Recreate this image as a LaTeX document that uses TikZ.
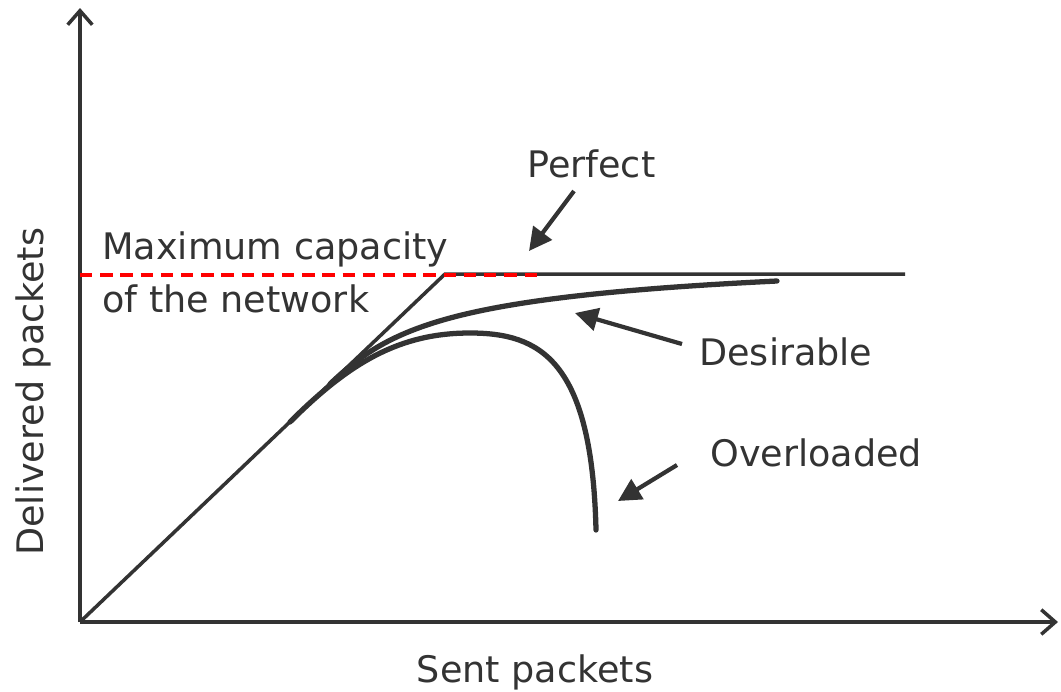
\documentclass[tikz,border=0pt]{standalone}
\usepackage{fontspec}
\setmainfont{DejaVu Sans}
\usetikzlibrary{arrows.meta}
\definecolor{ink}{HTML}{333333}
\tikzset{
  lbl/.style={font=\fontsize{20.8}{24}\selectfont, text=ink, inner sep=0pt},
  curve/.style={ink, line width=3pt, line cap=round},
  pointer/.style={ink, line width=2.4pt, -{Triangle[length=13pt,width=13pt]}},
  axis/.style={ink, line width=2pt, -{Straight Barb[length=8pt,width=14pt,line width=2pt]}}
}
\begin{document}
\begin{tikzpicture}[x=0.02cm,y=-0.02cm]
    \useasboundingbox (0,0) rectangle (1061,691);
    \coordinate (o) at (80,622);
    \coordinate (ytop) at (80,8);
    \coordinate (xend) at (1058,622);
    \coordinate (knee) at (445,274);
    \coordinate (pend) at (905,274);
    % axes
    \draw [axis] (o) -- (ytop);
    \draw [axis] (o) -- (xend);
    % perfect
    \draw [ink, line width=2pt] (o) -- (knee) -- (pend);
    % capacity level
    \draw [red, line width=1.8pt, dash pattern=on 7pt off 4.5pt] (80,275) -- (540,275);
    % desirable
    \draw [curve] (330,384) .. controls (390,327) and (450,297) .. (777,281);
    % overloaded
    \draw [curve] (290,422) .. controls (350,362) and (400,333) .. (470,333)
                            .. controls (540,333) and (592,360) .. (596,530);
    % labels
    \node [lbl, anchor=base west] (cap1) at (102,259) {Maximum capacity};
    \node [lbl, anchor=base west] (cap2) at (102,312) {of the network};
    \node [lbl, anchor=base west] (perfect) at (527,177) {Perfect};
    \node [lbl, anchor=base west] (desirable) at (699,365) {Desirable};
    \node [lbl, anchor=base west] (overloaded) at (710,466) {Overloaded};
    \node [lbl, anchor=base] (xlabel) at (535,682) {Sent packets};
    \node [lbl, anchor=base west, rotate=90] (ylabel) at (43,556) {Delivered packets};
    % pointers
    \coordinate (pa) at (574,191); \coordinate (pb) at (529,251);
    \coordinate (da) at (682,344); \coordinate (db) at (575,313);
    \coordinate (oa) at (677,465); \coordinate (ob) at (618,501);
    \foreach \a/\b in {pa/pb,da/db,oa/ob}
        \draw [pointer] (\a) -- (\b);
\end{tikzpicture}
\end{document}
